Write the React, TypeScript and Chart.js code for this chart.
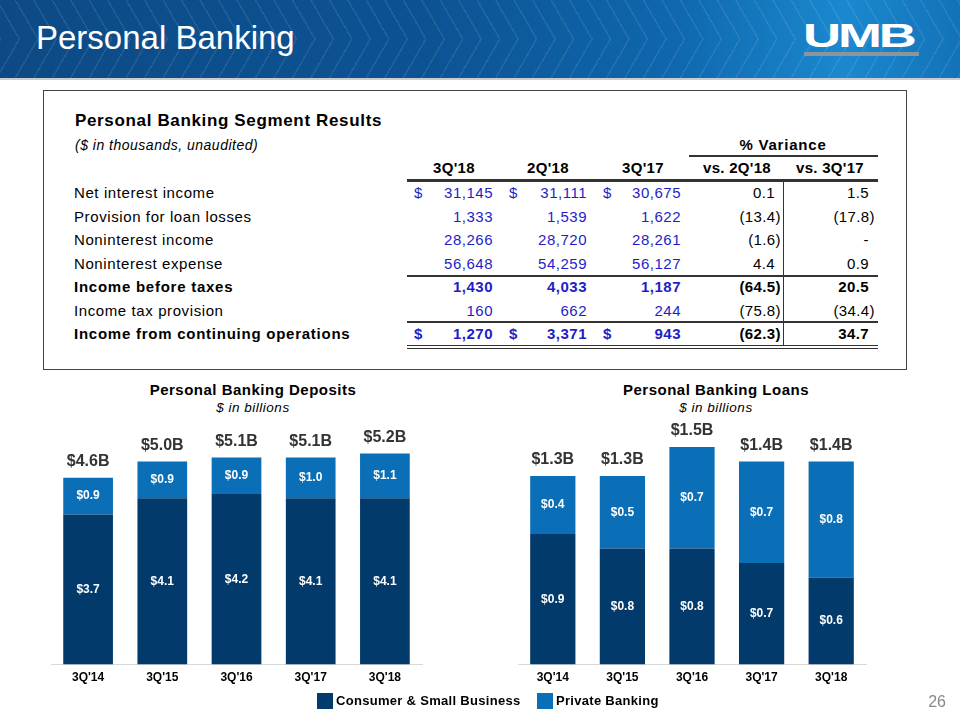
import React, { useEffect, useRef } from "react";
import { Chart, registerables } from "chart.js";

Chart.register(...registerables);

// ---------- DATA ----------
const quarters = ["3Q'14", "3Q'15", "3Q'16", "3Q'17", "3Q'18"];
const depositsConsumer = [3.7, 4.1, 4.2, 4.1, 4.1];
const depositsPrivate = [0.9, 0.9, 0.9, 1.0, 1.1];
const depositsTotal = [4.6, 5.0, 5.1, 5.1, 5.2];
const loansConsumer = [0.9, 0.8, 0.8, 0.7, 0.6];
const loansPrivate = [0.4, 0.5, 0.7, 0.7, 0.8];
const loansTotal = [1.3, 1.3, 1.5, 1.4, 1.4];
const seriesNames = ["Consumer & Small Business", "Private Banking"];

const rowLabels = [
  "Net interest income",
  "Provision for loan losses",
  "Noninterest income",
  "Noninterest expense",
  "Income before taxes",
  "Income tax provision",
  "Income from continuing operations",
];
const boldRows = [false, false, false, false, true, false, true];
const dollarRows = [true, false, false, false, false, false, true];
const col3Q18 = ["31,145", "1,333", "28,266", "56,648", "1,430", "160", "1,270"];
const col2Q18 = ["31,111", "1,539", "28,720", "54,259", "4,033", "662", "3,371"];
const col3Q17 = ["30,675", "1,622", "28,261", "56,127", "1,187", "244", "943"];
const varVs2Q18 = ["0.1", "(13.4)", "(1.6)", "4.4", "(64.5)", "(75.8)", "(62.3)"];
const varVs3Q17 = ["1.5", "(17.8)", "-", "0.9", "20.5", "(34.4)", "34.7"];
const tableHeaders = ["3Q'18", "2Q'18", "3Q'17", "vs. 2Q'18", "vs. 3Q'17"];

const DARK = "#023a6b";
const LIGHT = "#0a6fb7";
const FONT = '"Liberation Sans", Arial, sans-serif';

// ---------- CHART ----------
const labelPlugin = {
  id: "barLabels",
  afterDatasetsDraw(chart: any, _args: any, opts: any) {
    const ctx = chart.ctx;
    ctx.save();
    ctx.textAlign = "center";
    ctx.textBaseline = "middle";
    chart.data.datasets.forEach((ds: any, di: number) => {
      const meta = chart.getDatasetMeta(di);
      meta.data.forEach((el: any, i: number) => {
        const v = ds.data[i];
        const cy = (el.y + el.base) / 2;
        ctx.fillStyle = "#ffffff";
        ctx.font = `bold 12px ${FONT}`;
        ctx.fillText(`$${v.toFixed(1)}`, el.x, cy);
      });
    });
    const top = chart.getDatasetMeta(chart.data.datasets.length - 1);
    top.data.forEach((el: any, i: number) => {
      ctx.fillStyle = "#333333";
      ctx.font = `bold 16px ${FONT}`;
      ctx.fillText(`$${opts.totals[i].toFixed(1)}B`, el.x, el.y - 16);
    });
    ctx.restore();
  },
};

function StackedChart(props: {
  a: number[];
  b: number[];
  totals: number[];
  yMax: number;
  left: number;
  width: number;
  padding: { left: number; right: number; top: number; bottom: number };
  barPct: number;
}) {
  const ref = useRef<HTMLCanvasElement | null>(null);
  useEffect(() => {
    if (!ref.current) return;
    const chart = new Chart(ref.current, {
      type: "bar",
      data: {
        labels: quarters,
        datasets: [
          { label: seriesNames[0], data: props.a, backgroundColor: DARK, barPercentage: props.barPct, categoryPercentage: 1 },
          { label: seriesNames[1], data: props.b, backgroundColor: LIGHT, barPercentage: props.barPct, categoryPercentage: 1 },
        ],
      },
      options: {
        responsive: false,
        animation: false,
        layout: { padding: props.padding },
        plugins: {
          legend: { display: false },
          tooltip: { enabled: false },
          barLabels: { totals: props.totals },
        } as any,
        scales: {
          x: {
            stacked: true,
            grid: { display: false, drawTicks: false },
            border: { display: true, color: "#d9d9d9", width: 1 },
            ticks: { color: "#000", font: { family: FONT, size: 12, weight: "bold" }, padding: 6 },
          },
          y: { stacked: true, display: false, min: 0, max: props.yMax },
        },
      },
      plugins: [labelPlugin],
    });
    return () => chart.destroy();
  }, []);
  return (
    <canvas
      ref={ref}
      width={props.width}
      height={280}
      style={{ position: "absolute", left: props.left, top: 413, width: props.width, height: 280 }}
    />
  );
}

// ---------- TABLE ----------
const rowY = [193, 217, 240, 264, 287, 311, 334];
const BLUE = "#1e1ec8";

function Txt(p: { x: number; y: number; align?: "left" | "right" | "center"; children: any; style?: any }) {
  const base: any = { position: "absolute", top: p.y - 10, lineHeight: "20px", whiteSpace: "nowrap" };
  if (p.align === "right") base.right = 960 - p.x;
  else if (p.align === "center") { base.left = p.x - 150; base.width = 300; base.textAlign = "center"; }
  else base.left = p.x;
  return <div style={{ ...base, ...p.style }}>{p.children}</div>;
}

function HLine(p: { x1: number; x2: number; y: number; h?: number }) {
  return <div style={{ position: "absolute", left: p.x1, top: p.y, width: p.x2 - p.x1, height: p.h || 1.5, background: "#333" }} />;
}

function Table() {
  const numStyle = (b: boolean) => ({ color: BLUE, fontSize: 15, fontWeight: b ? "bold" : "normal", letterSpacing: "0.5px" });
  const varStyle = (b: boolean) => ({ color: "#000", fontSize: 15, fontWeight: b ? "bold" : "normal", letterSpacing: "0.4px" });
  const pad = (s: string) => (s.endsWith(")") ? 0 : 6);
  return (
    <div>
      <div style={{ position: "absolute", left: 43, top: 90, width: 862, height: 278, border: "1.5px solid #444" }} />
      <Txt x={75} y={121} style={{ fontSize: 17, fontWeight: "bold", letterSpacing: "0.65px" }}>Personal Banking Segment Results</Txt>
      <Txt x={75} y={145} style={{ fontSize: 14, fontStyle: "italic", letterSpacing: "0.5px" }}>($ in thousands, unaudited)</Txt>
      <Txt x={783} y={145} align="center" style={{ fontSize: 15, fontWeight: "bold", letterSpacing: "0.8px" }}>% Variance</Txt>
      <HLine x1={689} x2={878} y={155} h={1.5} />
      {[454, 548, 643, 737, 830].map((cx, i) => (
        <Txt key={i} x={cx} y={168} align="center" style={{ fontSize: 15, fontWeight: "bold", letterSpacing: "0.3px" }}>{tableHeaders[i]}</Txt>
      ))}
      <HLine x1={407} x2={878} y={179} h={2.5} />
      <HLine x1={407} x2={878} y={275} h={1.5} />
      <HLine x1={407} x2={878} y={321} h={1.5} />
      <HLine x1={407} x2={878} y={345} h={1.2} />
      <HLine x1={407} x2={878} y={348} h={1.2} />
      <div style={{ position: "absolute", left: 783, top: 181, width: 1.2, height: 164, background: "#333" }} />
      {rowLabels.map((lab, i) => {
        const b = boldRows[i];
        const y = rowY[i];
        return (
          <React.Fragment key={i}>
            <Txt x={74} y={y} style={{ fontSize: 15, fontWeight: b ? "bold" : "normal", letterSpacing: b ? "0.75px" : "0.6px" }}>{lab}</Txt>
            {dollarRows[i] && (
              <>
                <Txt x={414} y={y} style={numStyle(b)}>$</Txt>
                <Txt x={509} y={y} style={numStyle(b)}>$</Txt>
                <Txt x={603} y={y} style={numStyle(b)}>$</Txt>
              </>
            )}
            <Txt x={493} y={y} align="right" style={numStyle(b)}>{col3Q18[i]}</Txt>
            <Txt x={587} y={y} align="right" style={numStyle(b)}>{col2Q18[i]}</Txt>
            <Txt x={681} y={y} align="right" style={numStyle(b)}>{col3Q17[i]}</Txt>
            <Txt x={781 - pad(varVs2Q18[i])} y={y} align="right" style={varStyle(b)}>{varVs2Q18[i]}</Txt>
            <Txt x={875 - pad(varVs3Q17[i])} y={y} align="right" style={varStyle(b)}>{varVs3Q17[i]}</Txt>
          </React.Fragment>
        );
      })}
    </div>
  );
}

// ---------- APP ----------
export default function App() {
  return (
    <div style={{ position: "fixed", left: 0, top: 0, width: 960, height: 720, background: "#fff", fontFamily: FONT, color: "#000", overflow: "hidden" }}>
      {/* banner */}
      <div style={{ position: "absolute", left: 0, top: 0, width: 960, height: 78, background: "linear-gradient(90deg, #0d4a85 0%, #0c5394 45%, #0f67ad 70%, #1a88cf 88%, #1372b8 100%)" }} />
      <div style={{ position: "absolute", left: 0, top: 0, width: 960, height: 39, background: "repeating-linear-gradient(60deg, rgba(255,255,255,0.09) 0 1.5px, transparent 1.5px 16px)" }} />
      <div style={{ position: "absolute", left: 0, top: 39, width: 960, height: 39, background: "repeating-linear-gradient(120deg, rgba(255,255,255,0.09) 0 1.5px, transparent 1.5px 16px)" }} />
      <div style={{ position: "absolute", left: 0, top: 78, width: 960, height: 2, background: "#c9ccd0" }} />
      <div style={{ position: "absolute", left: 36, top: 18, fontSize: 33, color: "#fff", lineHeight: "40px" }}>Personal Banking</div>
      <div style={{ position: "absolute", left: 803, top: 18, width: 116, height: 34, overflow: "visible" }}>
        <div style={{ fontSize: 34, fontWeight: 900, color: "#fff", lineHeight: "34px", transform: "scaleX(1.55)", transformOrigin: "left center", letterSpacing: "-2px" }}>UMB</div>
      </div>
      <div style={{ position: "absolute", left: 804, top: 52, width: 115, height: 4, background: "#8e949b" }} />

      <Table />

      {/* chart titles */}
      <Txt x={253} y={390} align="center" style={{ fontSize: 15, fontWeight: "bold", letterSpacing: "0.5px" }}>Personal Banking Deposits</Txt>
      <Txt x={253} y={408} align="center" style={{ fontSize: 13.5, fontStyle: "italic", letterSpacing: "0.5px" }}>$ in billions</Txt>
      <Txt x={716} y={390} align="center" style={{ fontSize: 15, fontWeight: "bold", letterSpacing: "0.5px" }}>Personal Banking Loans</Txt>
      <Txt x={716} y={408} align="center" style={{ fontSize: 13.5, fontStyle: "italic", letterSpacing: "0.5px" }}>$ in billions</Txt>

      <StackedChart a={depositsConsumer} b={depositsPrivate} totals={depositsTotal} yMax={6} left={40} width={400}
        padding={{ left: 11, right: 18, top: 8, bottom: 2 }} barPct={0.67} />
      <StackedChart a={loansConsumer} b={loansPrivate} totals={loansTotal} yMax={1.7} left={505} width={380}
        padding={{ left: 13, right: 19, top: 5, bottom: 2 }} barPct={0.65} />

      {/* legend */}
      <div style={{ position: "absolute", left: 317, top: 693, width: 16, height: 16, background: DARK }} />
      <Txt x={336} y={701} style={{ fontSize: 13, fontWeight: "bold", letterSpacing: "0.3px" }}>{seriesNames[0]}</Txt>
      <div style={{ position: "absolute", left: 537, top: 693, width: 16, height: 16, background: LIGHT }} />
      <Txt x={556} y={701} style={{ fontSize: 13, fontWeight: "bold", letterSpacing: "0.3px" }}>{seriesNames[1]}</Txt>
      <Txt x={946} y={702} align="right" style={{ fontSize: 16, color: "#888" }}>26</Txt>
    </div>
  );
}
